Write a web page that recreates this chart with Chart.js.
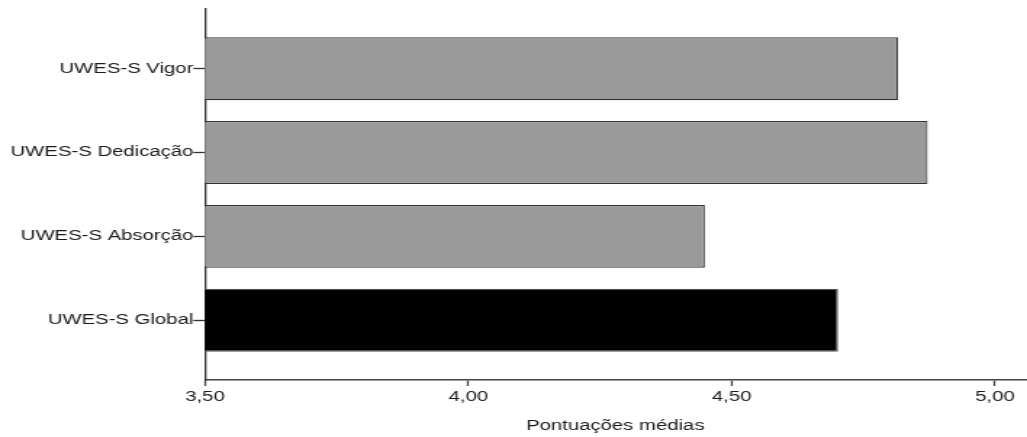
<!DOCTYPE html>
<html>
<head>
<meta charset="utf-8">
<script src="https://cdn.jsdelivr.net/npm/chart.js@4"></script>
<style>
  html, body { margin: 0; padding: 0; background: #fff; overflow: hidden; }
  #wrap { width: 1027px; height: 437px; overflow: hidden; }
  /* the original output is stretched horizontally, so we draw narrow and stretch */
  #myChart { display: block; transform: scaleX(1.4506); transform-origin: 0 0; }
</style>
</head>
<body>
<div id="wrap"><canvas id="myChart" width="708" height="437"></canvas></div>
<script>
// data
const categories = ['UWES-S Vigor', 'UWES-S Dedicação', 'UWES-S Absorção', 'UWES-S Global'];
const scores = [4.816, 4.872, 4.449, 4.702];
const barColors = ['#9a9a9a', '#9a9a9a', '#9a9a9a', '#000000'];
const barBorders = ['#333333', '#333333', '#333333', '#555555'];
const xTicks = [3.5, 4.0, 4.5, 5.0];
const xTitle = 'Pontuações médias';

const font = { family: "'Liberation Sans', Arial, sans-serif", size: 14 };
const textColor = '#1a1a1a';

/**
 * chart config, horizontal bars on a numeric index axis
 */
function generate_bar_graphe(){
    return {
        type: 'bar',
        data: {
            datasets: [{
                data: scores.map((v, i) => ({ x: v, y: i })),
                backgroundColor: barColors,
                borderColor: barBorders,
                borderWidth: 1.2,
                categoryPercentage: 1,
                barPercentage: 0.75
            }]
        },
        options: {
            indexAxis: 'y',
            responsive: false,
            animation: false,
            layout: { padding: { top: 7, right: 1, left: 0, bottom: 0 } },
            plugins: {
                legend: { display: false },
                tooltip: { enabled: false }
            },
            scales: {
                x: {
                    type: 'linear',
                    min: 3.5,
                    max: 5.058,
                    afterFit: (s) => { s.height = 57; },
                    afterBuildTicks: (s) => { s.ticks = xTicks.map(v => ({ value: v })); },
                    border: { display: true, color: '#444', width: 1.6 },
                    grid: { display: true, drawOnChartArea: false, drawTicks: true, tickLength: 6, tickColor: '#444', tickWidth: 1.3 },
                    ticks: {
                        font: font,
                        color: textColor,
                        padding: 3,
                        maxRotation: 0,
                        callback: (v) => v.toFixed(2).replace('.', ',')
                    },
                    title: {
                        display: true,
                        text: xTitle,
                        font: font,
                        color: textColor,
                        padding: { top: 0, bottom: 2 }
                    }
                },
                y: {
                    type: 'linear',
                    reverse: true,
                    offset: false,
                    min: -0.719,
                    max: 3.713,
                    afterFit: (s) => { s.width = 141.3; },
                    afterBuildTicks: (s) => { s.ticks = categories.map((c, i) => ({ value: i })); },
                    border: { display: true, color: '#333', width: 1.3 },
                    grid: { display: true, offset: false, drawOnChartArea: false, drawTicks: true, tickLength: 8, tickColor: '#333', tickWidth: 1.3 },
                    ticks: {
                        font: font,
                        color: textColor,
                        padding: 0,
                        callback: (v) => categories[v]
                    }
                }
            }
        }
    };
}

var canvas = document.getElementById('myChart');
var ctx = canvas.getContext('2d');
var myChart = new Chart(ctx, generate_bar_graphe());
</script>
</body>
</html>
